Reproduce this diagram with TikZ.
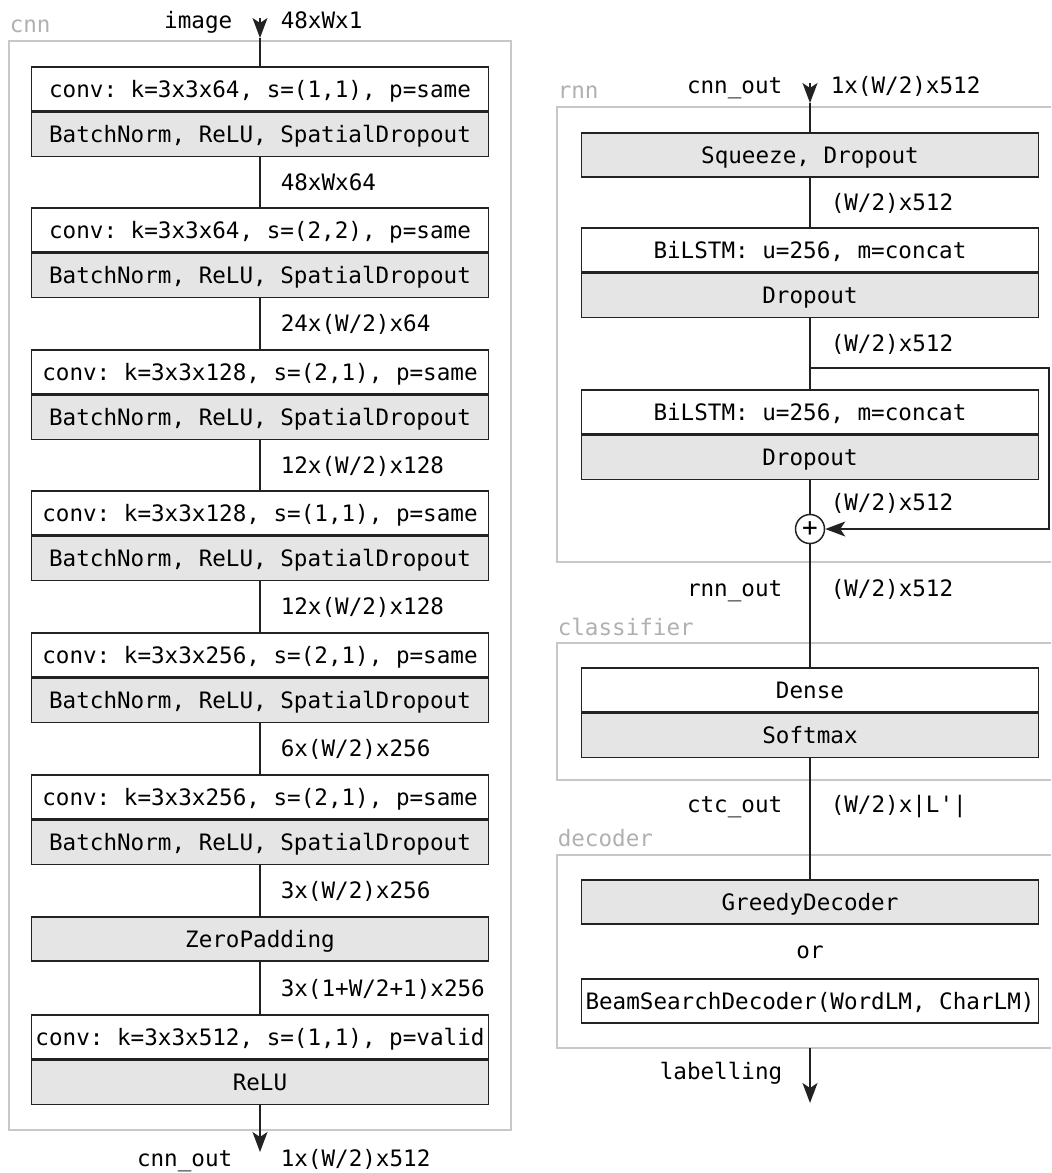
\documentclass[tikz,border=0pt]{standalone}
\usepackage{fontspec}
\setmonofont{DejaVu Sans Mono}
\usepackage{tikz}
\usetikzlibrary{arrows.meta,positioning}
\definecolor{wire}{HTML}{222222}
\definecolor{layerfill}{HTML}{E5E5E5}
\definecolor{group}{HTML}{C8C8C8}
\definecolor{grouptext}{HTML}{B0B0B0}

\begin{document}
\begin{tikzpicture}[x=0.5pt, y=-0.5pt,
  font=\ttfamily\fontsize{11.3}{13.5}\selectfont,
  line width=0.75pt, wire, text=black,
  layer/.style={draw=wire, fill=white, minimum width=228.5pt, minimum height=22pt,
    inner sep=1pt, text height=8.2pt, text depth=0pt},
  act/.style={layer, fill=layerfill},
  grp/.style={draw=group, line width=1pt},
  grplbl/.style={text=grouptext, anchor=base west, inner sep=0pt},
  lbl/.style={inner sep=0pt, text height=8.2pt, text depth=0pt},
  rlbl/.style={lbl, anchor=west, xshift=10pt},
  llbl/.style={lbl, anchor=east, xshift=-13.5pt},
  arr/.style={-{Stealth[length=10pt, width=7.5pt, inset=2.5pt]}},
  sumnode/.style={circle, draw=wire, fill=white, inner sep=0pt, minimum size=14.5pt,
    font=\ttfamily\fontsize{13}{13}\selectfont}]

  \clip (0,0) rectangle (1051,1173);

  % --- cnn ---
  \draw[grp] (9,41) rectangle (511,1130);
  \node[grplbl] (cnnname) at (9,32) {cnn};

  \foreach \i/\conv/\ytop in {
      1/{conv: k=3x3x64, s=(1,1), p=same}/67,
      2/{conv: k=3x3x64, s=(2,2), p=same}/208,
      3/{conv: k=3x3x128, s=(2,1), p=same}/350,
      4/{conv: k=3x3x128, s=(1,1), p=same}/491,
      5/{conv: k=3x3x256, s=(2,1), p=same}/633,
      6/{conv: k=3x3x256, s=(2,1), p=same}/775} {
    \node[layer] (conv\i) at (260,\ytop+22) {\conv};
    \node[act, below=0pt of conv\i] (act\i) {BatchNorm, ReLU, SpatialDropout};
  }
  \node[act] (zpad) at (260,939) {ZeroPadding};
  \node[layer] (conv7) at (260,1037) {conv: k=3x3x512, s=(1,1), p=valid};
  \node[act, below=0pt of conv7] (relu) {ReLU};

  \coordinate (imgin) at (260,18);
  \coordinate (imgtip) at (260,38);
  \draw[arr] (imgin) -- (imgtip) node[pos=0.1, llbl] {image} node[pos=0.1, rlbl] {48xWx1};
  \draw (imgtip) -- (conv1);
  \draw (act1) -- (conv2) node[midway, rlbl] {48xWx64};
  \draw (act2) -- (conv3) node[midway, rlbl] {24x(W/2)x64};
  \draw (act3) -- (conv4) node[midway, rlbl] {12x(W/2)x128};
  \draw (act4) -- (conv5) node[midway, rlbl] {12x(W/2)x128};
  \draw (act5) -- (conv6) node[midway, rlbl] {6x(W/2)x256};
  \draw (act6) -- (zpad) node[midway, rlbl] {3x(W/2)x256};
  \draw (zpad) -- (conv7) node[midway, rlbl] {3x(1+W/2+1)x256};
  \coordinate (cnnout) at (260,1152);
  \draw[arr] (relu) -- (cnnout)
    node[pos=1, llbl, yshift=-3pt] {cnn\_out} node[pos=1, rlbl, yshift=-3pt] {1x(W/2)x512};

  % --- rnn ---
  \draw[grp] (557,107) rectangle (1060,562);
  \node[grplbl] (rnnname) at (557,98) {rnn};
  \node[act] (squeeze) at (810,155) {Squeeze, Dropout};
  \node[layer] (lstm1) at (810,250) {BiLSTM: u=256, m=concat};
  \node[act, below=0pt of lstm1] (drop1) {Dropout};
  \node[layer] (lstm2) at (810,412) {BiLSTM: u=256, m=concat};
  \node[act, below=0pt of lstm2] (drop2) {Dropout};
  \node[sumnode] (sum) at (810,529) {+};

  \coordinate (rnnin) at (810,83);
  \coordinate (rnntip) at (810,103);
  \coordinate (skip) at (810,368);
  \draw[arr] (rnnin) -- (rnntip) node[pos=0.1, llbl] {cnn\_out} node[pos=0.1, rlbl] {1x(W/2)x512};
  \draw (rnntip) -- (squeeze);
  \draw (squeeze) -- (lstm1) node[midway, rlbl] {(W/2)x512};
  \draw (drop1) -- (skip) node[midway, rlbl] {(W/2)x512} -- (lstm2);
  \draw (drop2) -- (sum) node[pos=0.65, rlbl] {(W/2)x512};
  \draw[arr] (skip) -- ++(239,0) |- (sum);

  % --- classifier ---
  \draw[grp] (557,643) rectangle (1060,780);
  \node[grplbl] (clsname) at (557,635) {classifier};
  \node[layer] (dense) at (810,690) {Dense};
  \node[act, below=0pt of dense] (softmax) {Softmax};
  \draw (sum) -- (dense) node[pos=0.36, llbl] {rnn\_out} node[pos=0.36, rlbl] {(W/2)x512};

  % --- decoder ---
  \draw[grp] (557,855) rectangle (1060,1048);
  \node[grplbl] (decname) at (557,846) {decoder};
  \node[act] (greedy) at (810,902) {GreedyDecoder};
  \node[lbl] (or) at (810,950) {or};
  \node[layer] (beam) at (810,1001) {BeamSearchDecoder(WordLM, CharLM)};
  \draw (softmax) -- (greedy) node[pos=0.38, llbl] {ctc\_out} node[pos=0.38, rlbl] {(W/2)x|L'|};

  \coordinate (decout) at (810,1048);
  \coordinate (labout) at (810,1103);
  \draw[arr] (decout) -- (labout) node[pos=0.42, llbl] {labelling};

\end{tikzpicture}
\end{document}
